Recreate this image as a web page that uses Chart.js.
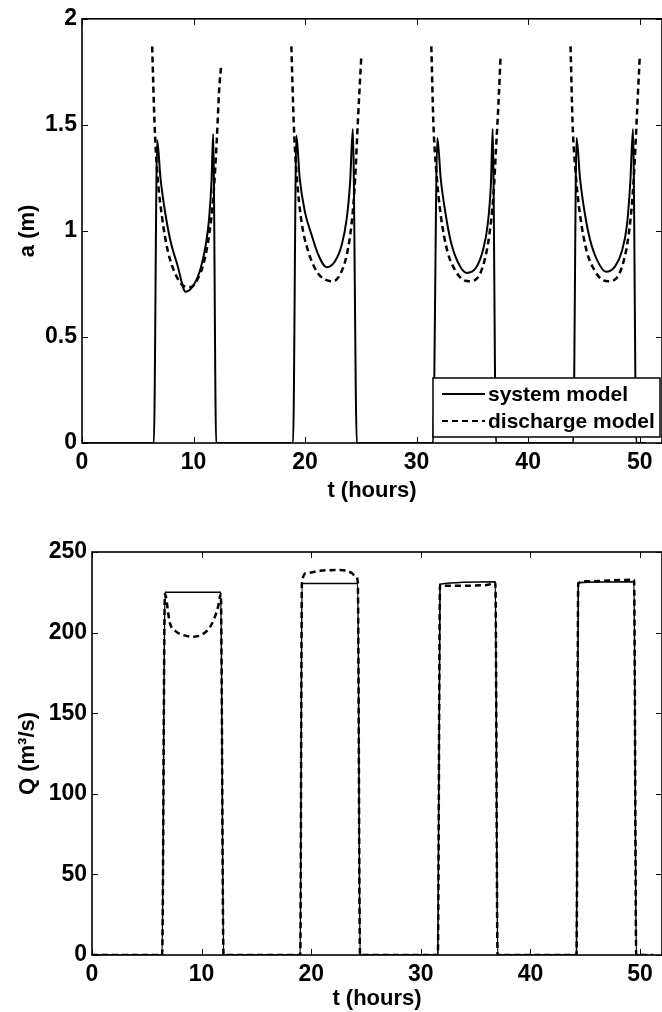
<!DOCTYPE html>
<html><head><meta charset="utf-8">
<script src="https://cdn.jsdelivr.net/npm/chart.js@4.4.1/dist/chart.umd.min.js"></script>
<style>
html,body{margin:0;padding:0;background:#fff;}
#wrap{position:relative;width:662px;height:1012px;overflow:hidden;background:#fff;}
canvas{position:absolute;left:0;}
</style></head><body>
<div id="wrap">
<canvas id="c1" width="662" height="510" style="top:0px"></canvas>
<canvas id="c2" width="662" height="502" style="top:510px"></canvas>
</div>
<script>
// ---------- data ----------
const seriesNames = ['system model', 'discharge model'];
const xTicks = [0, 10, 20, 30, 40, 50];
const aTicks = [0, 0.5, 1, 1.5, 2];
const qTicks = [0, 50, 100, 150, 200, 250];

// top panel: a (m), system model
const tA_sys = [0, 6.44, 6.74, 7.04, 7.49, 7.94, 8.54, 9.30, 10.05, 10.65, 11.10, 11.40, 11.61, 11.76, 12.03,
  18.92, 19.22, 19.52, 19.98, 20.58, 21.18, 21.93, 22.68, 23.29, 23.74, 24.04, 24.28, 24.64,
  31.47, 31.86, 32.16, 32.61, 33.06, 33.66, 34.48, 35.32, 35.92, 36.37, 36.67, 36.82, 37.12,
  44.04, 44.34, 44.65, 45.10, 45.55, 46.15, 46.99, 47.81, 48.40, 48.86, 49.16, 49.40, 49.70, 50.5];
const a_sys = [0, 0, 1.427, 1.247, 1.076, 0.951, 0.842, 0.713, 0.748, 0.826, 0.935, 1.06, 1.232, 1.457, 0,
  0, 1.45, 1.247, 1.091, 0.982, 0.888, 0.829, 0.857, 0.935, 1.06, 1.232, 1.481, 0,
  0, 1.438, 1.247, 1.076, 0.951, 0.857, 0.802, 0.826, 0.904, 1.029, 1.232, 1.481, 0,
  0, 1.438, 1.247, 1.076, 0.958, 0.866, 0.807, 0.834, 0.904, 1.029, 1.232, 1.481, 0, 0];

// top panel: a (m), discharge model (null = no flow)
const tA_dis = [6.29, 6.50, 6.74, 7.19, 7.70, 8.39, 9.14, 9.75, 10.35, 10.95, 11.40, 11.79, 12.09, 12.30, 12.49, 15,
  18.77, 18.98, 19.22, 19.68, 20.28, 21.03, 21.78, 22.54, 23.14, 23.74, 24.19, 24.49, 24.73, 25.03, 28,
  31.32, 31.50, 31.77, 32.16, 32.76, 33.51, 34.12, 34.72, 35.47, 36.07, 36.52, 36.89, 37.12, 37.33, 37.52, 40,
  43.80, 43.98, 44.25, 44.65, 45.25, 46.00, 46.60, 47.20, 47.95, 48.56, 49.01, 49.37, 49.61, 49.79, 50.00];
const a_dis = [1.869, 1.513, 1.279, 1.06, 0.904, 0.795, 0.74, 0.735, 0.771, 0.857, 0.982, 1.17, 1.435, 1.669, 1.786, null,
  1.87, 1.513, 1.279, 1.044, 0.904, 0.81, 0.771, 0.763, 0.795, 0.888, 1.044, 1.247, 1.513, 1.813, null,
  1.87, 1.513, 1.279, 1.076, 0.904, 0.81, 0.771, 0.763, 0.779, 0.857, 0.982, 1.17, 1.388, 1.591, 1.816, null,
  1.87, 1.513, 1.279, 1.076, 0.904, 0.81, 0.771, 0.763, 0.779, 0.857, 0.982, 1.17, 1.388, 1.591, 1.816];

// bottom panel: Q (m3/s), system model
const tQ_sys = [0, 6.4, 6.65, 11.75, 12.0, 19.0, 19.15, 24.25, 24.45, 31.55, 31.75, 36.8, 37.0, 44.2, 44.36, 49.45, 49.65, 50.7];
const q_sys = [0, 0, 225, 225, 0, 0, 230.5, 230.5, 0, 0, 230, 231.5, 0, 0, 231, 231.5, 0, 0];

// bottom panel: Q (m3/s), discharge model
const tQ_dis = [0, 6.4, 6.65, 7.1, 7.6, 8.3, 9.2, 10.1, 10.9, 11.5, 11.75, 12.0,
  19.0, 19.15, 19.56, 20.77, 22.59, 23.65, 24.1, 24.25, 24.45,
  31.55, 31.75, 32.2, 36.0, 36.8, 37.0,
  44.2, 44.36, 45.0, 49.45, 49.65, 51.2];
const q_dis = [0, 0, 224, 206, 201, 198.5, 197.5, 199, 205, 216, 224, 0,
  0, 231, 236.8, 238.4, 238.8, 237.2, 234.7, 231, 0,
  0, 229.5, 229, 229.5, 231, 0,
  0, 230.5, 231.8, 232.8, 0, 0];

// ---------- helpers ----------
const FONT = "'Liberation Sans', Arial, Helvetica, sans-serif";
const pts = (xs, ys) => xs.map((x, i) => ({ x: x, y: ys[i] }));

const framePlugin = {
  id: 'frame',
  afterDraw(chart) {
    const { ctx, chartArea: { left, right, top, bottom } } = chart;
    const xs = chart.scales.x, ys = chart.scales.y;
    ctx.save();
    ctx.strokeStyle = '#000';
    ctx.lineWidth = 1;
    ctx.beginPath();
    xs.ticks.forEach(t => {
      const px = Math.round(xs.getPixelForValue(t.value)) + 0.5;
      ctx.moveTo(px, bottom); ctx.lineTo(px, bottom - 6);
      ctx.moveTo(px, top); ctx.lineTo(px, top + 6);
    });
    ys.ticks.forEach(t => {
      const py = Math.round(ys.getPixelForValue(t.value)) + 0.5;
      ctx.moveTo(left, py); ctx.lineTo(left + 6, py);
      ctx.moveTo(right, py); ctx.lineTo(right - 6, py);
    });
    ctx.stroke();
    ctx.lineWidth = 1.6;
    ctx.strokeRect(left, top, right - left, bottom - top);
    ctx.restore();
  }
};

const boxLegend = {
  id: 'boxLegend',
  afterDraw(chart, args, o) {
    if (!o || !o.show) return;
    const { ctx, chartArea } = chart;
    const w = 227, h = 59;
    const x0 = chartArea.right - 2 - w, y0 = chartArea.bottom - 6 - h;
    ctx.save();
    ctx.fillStyle = '#fff';
    ctx.fillRect(x0, y0, w, h);
    ctx.strokeStyle = '#000';
    ctx.lineWidth = 1.5;
    ctx.strokeRect(x0, y0, w, h);
    const rows = [y0 + 16, y0 + 43];
    chart.data.datasets.forEach((ds, i) => {
      ctx.beginPath();
      ctx.lineWidth = 2;
      ctx.setLineDash(ds.borderDash || []);
      ctx.moveTo(x0 + 9, rows[i]);
      ctx.lineTo(x0 + 52, rows[i]);
      ctx.stroke();
      ctx.setLineDash([]);
      ctx.fillStyle = '#000';
      ctx.font = 'bold 21px ' + FONT;
      ctx.textBaseline = 'middle';
      ctx.textAlign = 'left';
      ctx.fillText(ds.label, x0 + 55, rows[i] + 1);
    });
    ctx.restore();
  }
};

function makeChart(id, cfg) {
  return new Chart(document.getElementById(id), {
    type: 'line',
    data: {
      datasets: [
        { label: seriesNames[0], data: cfg.sys, borderColor: '#000', borderWidth: cfg.sysWidth,
          pointRadius: 0, cubicInterpolationMode: 'monotone', fill: false, spanGaps: false },
        { label: seriesNames[1], data: cfg.dis, borderColor: '#000', borderWidth: 2.5, borderDash: [6, 4],
          pointRadius: 0, cubicInterpolationMode: 'monotone', fill: false, spanGaps: false }
      ]
    },
    options: {
      responsive: false,
      animation: false,
      layout: { autoPadding: false, padding: { top: cfg.padTop, right: 0, left: 0, bottom: 0 } },
      plugins: {
        legend: { display: false },
        tooltip: { enabled: false },
        boxLegend: { show: cfg.legend }
      },
      scales: {
        x: {
          type: 'linear', min: 0, max: 52,
          grid: { display: false, drawTicks: false },
          border: { display: false },
          afterBuildTicks: s => { s.ticks = xTicks.map(v => ({ value: v })); },
          afterFit: s => { s.height = cfg.xH; },
          ticks: { color: '#000', padding: 6, font: { family: FONT, size: 23, weight: 'bold' },
                   maxRotation: 0, callback: v => String(v) },
          title: { display: true, text: 't (hours)', color: '#000',
                   font: { family: FONT, size: 22, weight: 'bold' }, padding: { top: 0, bottom: cfg.xTitlePad } }
        },
        y: {
          type: 'linear', min: cfg.ymin, max: cfg.ymax,
          grid: { display: false, drawTicks: false },
          border: { display: false },
          afterBuildTicks: s => { s.ticks = cfg.yTicks.map(v => ({ value: v })); },
          afterFit: s => { s.width = cfg.yW; },
          ticks: { color: '#000', padding: 5, font: { family: FONT, size: 23, weight: 'bold' },
                   callback: v => String(v) },
          title: { display: true, text: cfg.yTitle, color: '#000',
                   font: { family: FONT, size: 22, weight: 'bold' }, padding: { top: 15, bottom: 0 } }
        }
      }
    },
    plugins: [framePlugin, boxLegend]
  });
}

makeChart('c1', {
  sys: pts(tA_sys, a_sys), dis: pts(tA_dis, a_dis), sysWidth: 2,
  padTop: 16, xH: 510 - 443, yW: 82, xTitlePad: 6,
  ymin: 0, ymax: 2, yTicks: aTicks, yTitle: 'a (m)', legend: true
});
makeChart('c2', {
  sys: pts(tQ_sys, q_sys), dis: pts(tQ_dis, q_dis), sysWidth: 1.6,
  padTop: 42, xH: 502 - 445, yW: 92, xTitlePad: 0,
  ymin: 0, ymax: 250, yTicks: qTicks, yTitle: 'Q (m³/s)', legend: false
});
</script>
</body></html>
